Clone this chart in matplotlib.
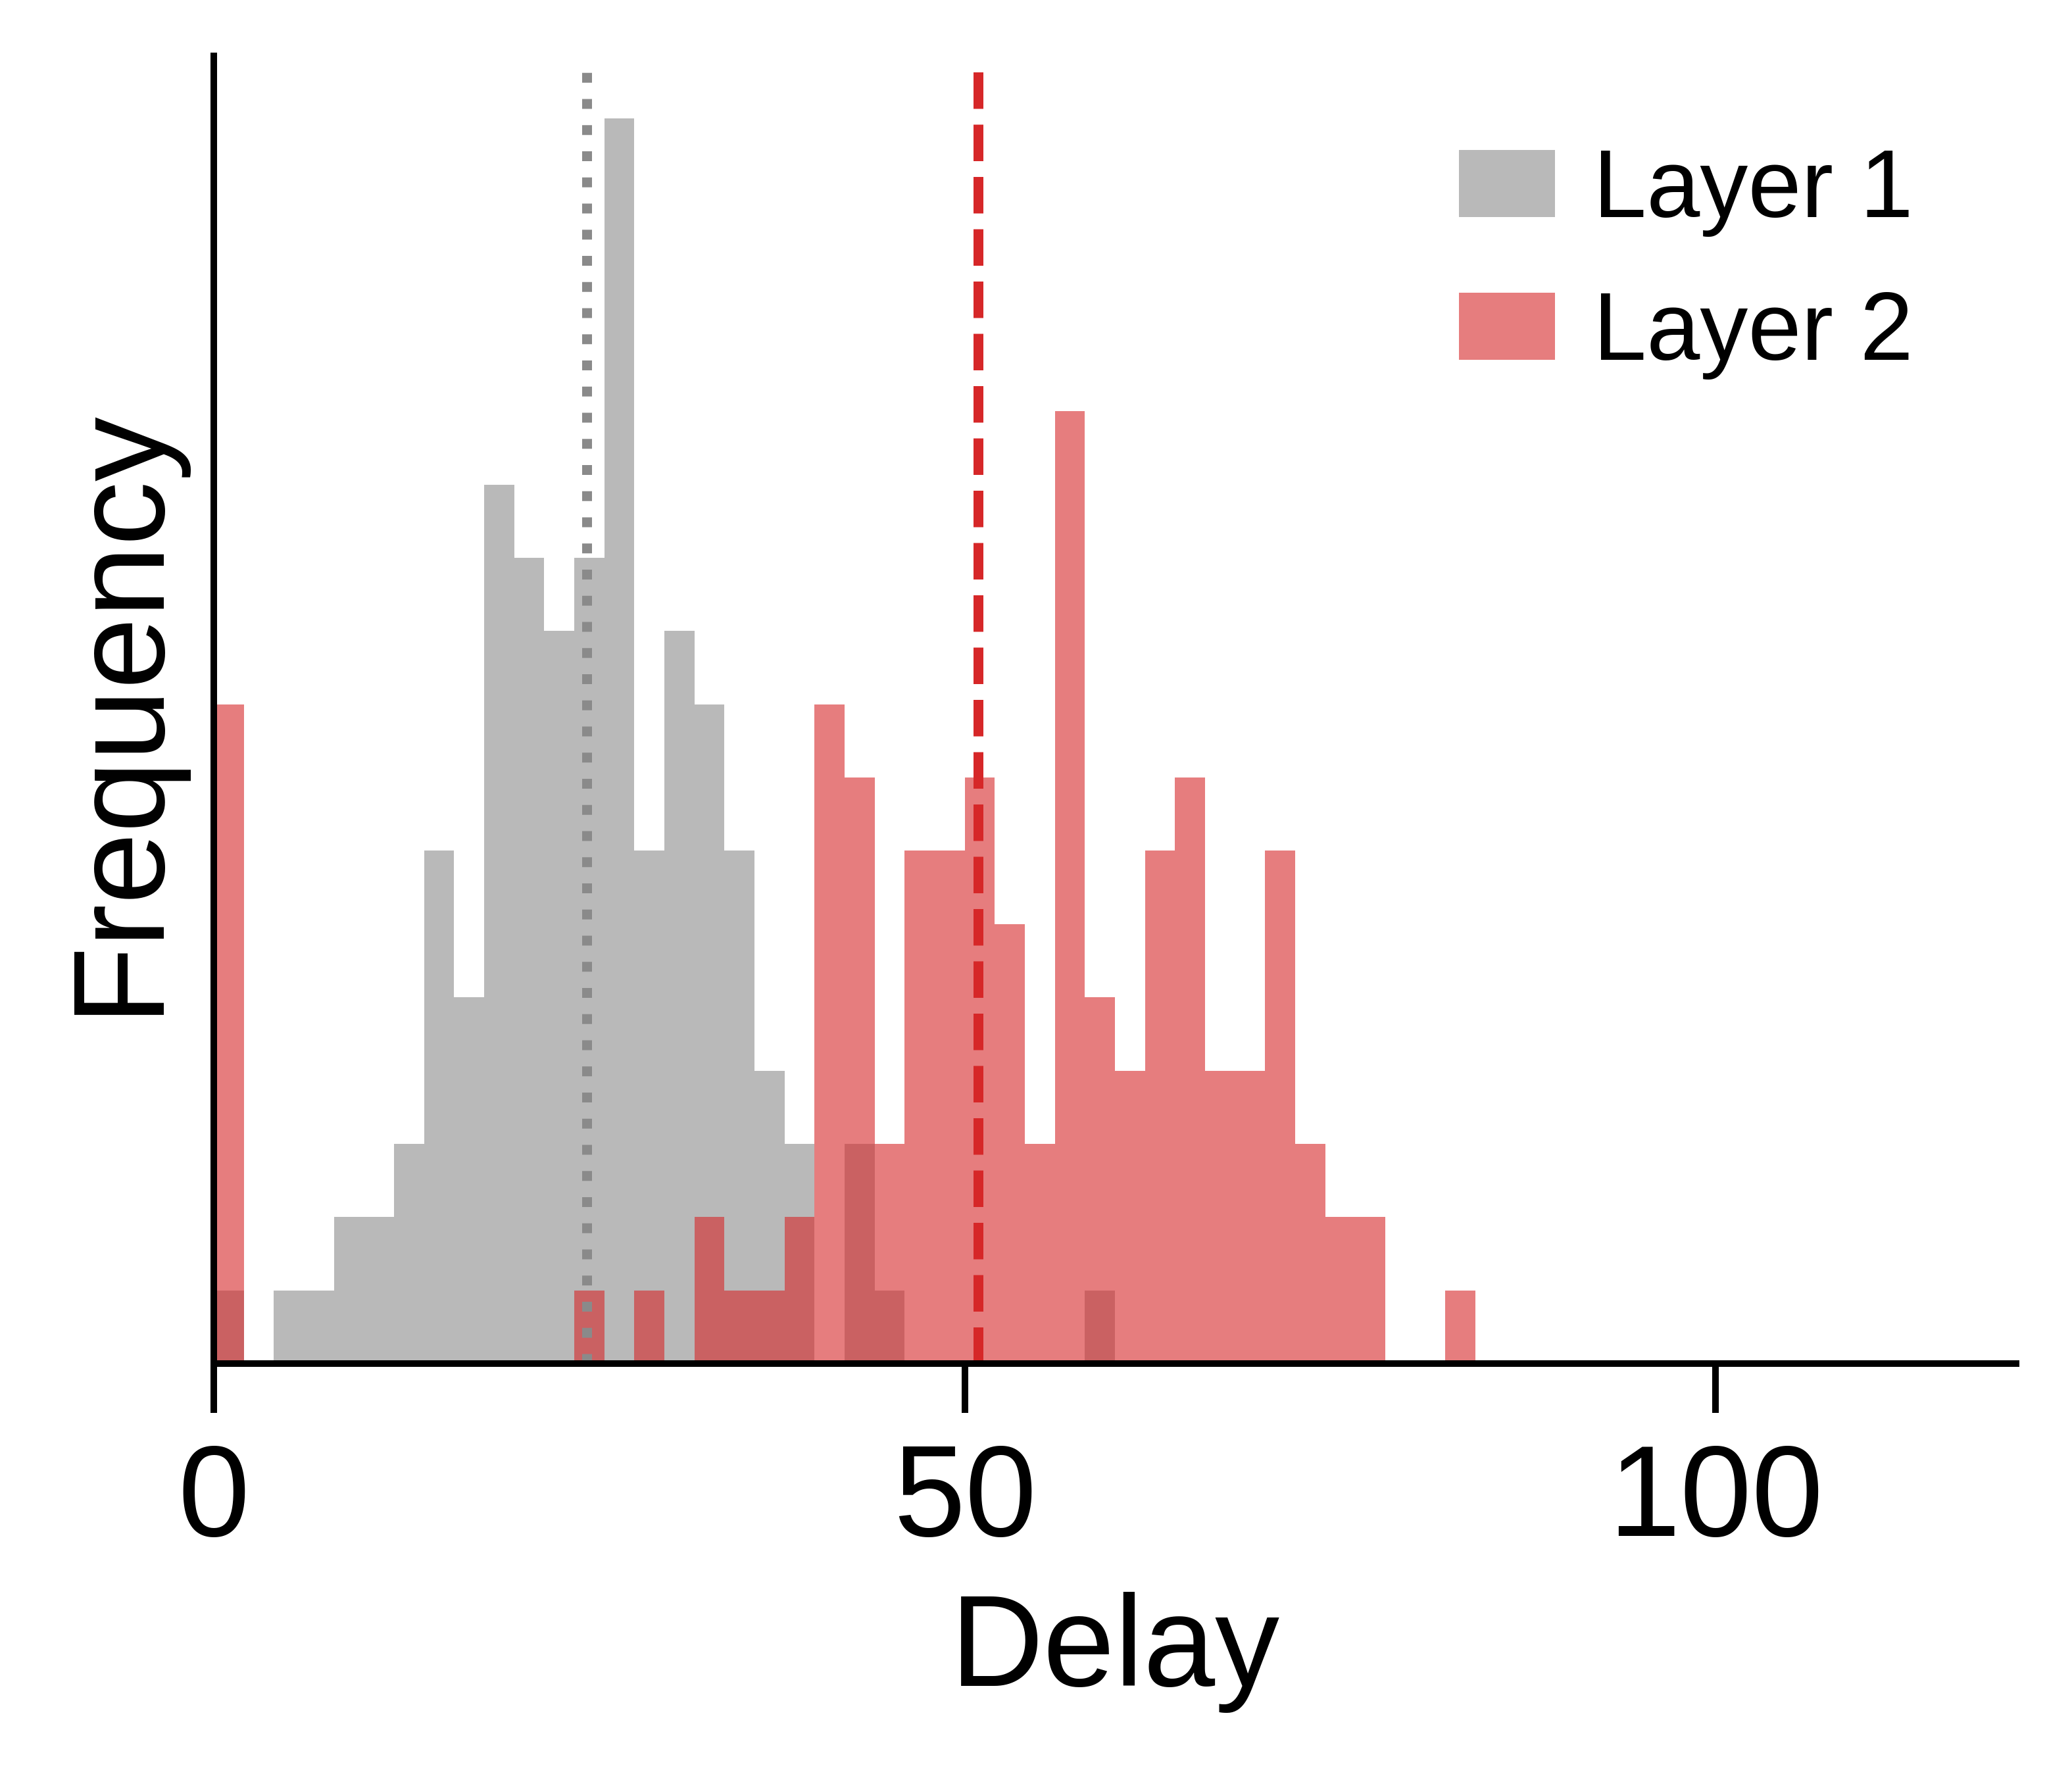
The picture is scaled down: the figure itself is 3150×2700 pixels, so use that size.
import numpy as np
import matplotlib
matplotlib.use('Agg')
import matplotlib.pyplot as plt

plt.rcParams['font.family'] = ['Liberation Sans', 'DejaVu Sans']

# bin edges (width 2) and counts per bin
bin_edges = np.arange(0, 86, 2)
layer1_counts = [1, 0, 1, 1, 2, 2, 3, 7, 5, 12, 11, 10, 11, 17, 7, 10, 9, 7, 4, 3, 0,
                 3, 1, 0, 0, 0, 0, 0, 0, 1, 0, 0, 0, 0, 0, 0, 0, 0, 0, 0, 0, 0]
layer2_counts = [9, 0, 0, 0, 0, 0, 0, 0, 0, 0, 0, 0, 1, 0, 1, 0, 2, 1, 1, 2, 9,
                 8, 3, 7, 7, 8, 6, 3, 13, 5, 4, 7, 8, 4, 4, 7, 3, 2, 2, 0, 0, 1]
layer1_line = 24.85
layer2_line = 50.9

fig = plt.figure(figsize=(10.5, 9), dpi=300)
ax = fig.add_axes([0.1032, 0.2322, 0.8698, 0.7363])

ax.hist(bin_edges[:-1], bins=bin_edges, weights=layer1_counts,
        color='gray', alpha=0.55, label='Layer 1')
ax.hist(bin_edges[:-1], bins=bin_edges, weights=layer2_counts,
        color='tab:red', alpha=0.6, label='Layer 2')

ax.axvline(layer1_line, ymax=0.988, color='#8a8a8a', linestyle=':', linewidth=3.6)
ax.axvline(layer2_line, ymax=0.988, color='#d62728', linestyle='--', linewidth=3.6)

ax.set_xlim(0, 120)
ax.set_xticks([0, 50, 100])
ax.set_yticks([])
ax.tick_params(axis='x', length=18, width=2.4, pad=10.5, labelsize=47)

for side in ['top', 'right']:
    ax.spines[side].set_visible(False)
for side in ['left', 'bottom']:
    ax.spines[side].set_linewidth(2.4)

ax.set_xlabel('Delay', fontsize=47, labelpad=10.5)
ax.set_ylabel('Frequency', fontsize=47, labelpad=12)

ax.legend(loc='upper left', bbox_to_anchor=(0.6625, 0.9655),
          bbox_transform=fig.transFigure, frameon=False, fontsize=35,
          handlelength=1.0, handleheight=0.7, handletextpad=0.4,
          labelspacing=0.55)

fig.savefig('out.png', dpi=300)
